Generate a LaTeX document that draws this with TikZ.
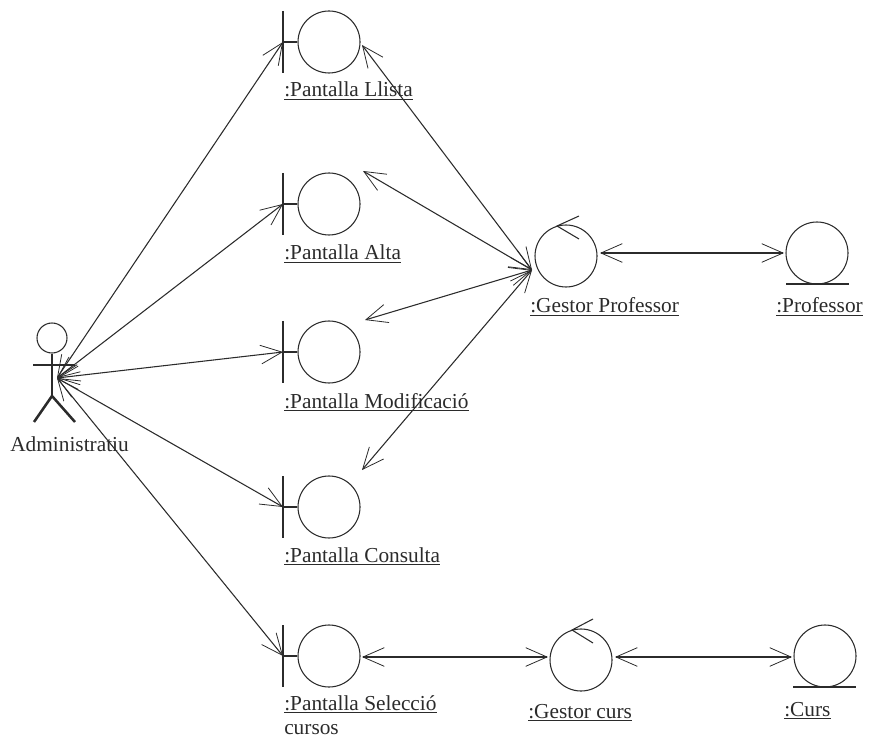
\documentclass[tikz,border=0pt]{standalone}
\usepackage{fontspec}
\setmainfont{Liberation Serif}
\usetikzlibrary{arrows.meta}
\tikzset{
  x=0.75pt,y=-0.75pt,
  obj/.style={circle,draw=ink,line width=0.8pt,minimum size=46.5pt,inner sep=0pt},
  part/.style={draw=ink,line width=0.8pt},
  limb/.style={draw=ink,line width=1.9pt},
  assoc/.style={draw=ink,line width=0.8pt,{Straight Barb[length=16pt,width=14pt,line width=0.6pt]}-{Straight Barb[length=16pt,width=14pt,line width=0.6pt]}},
  lbl/.style={anchor=base west,inner sep=0pt,font=\fontsize{16}{16}\selectfont,text=ink}
}
\definecolor{ink}{HTML}{2B2B2B}
\newcommand{\boundaryobj}[2]{% name, y
  \node[obj] (#1) at (329,#2) {};
  \coordinate (#1bar) at (283,#2);
  \draw[part] (283,#2-31) -- (283,#2+31);
  \draw[part] (#1bar) -- (#1.west);
}
\begin{document}
\begin{tikzpicture}
\useasboundingbox (0,0) rectangle (870,737);
% actor
\node[circle,draw=ink,line width=0.8pt,minimum size=22.5pt,inner sep=0pt] (head) at (52,338) {};
\coordinate (hub) at (57,378);
\coordinate (hip) at (52,396);
\draw[limb] (head.south) -- (hip);
\draw[limb] (33,365) -- (75,365);
\draw[limb] (34,422) -- (hip) -- (75,422);
\node[lbl] (admin) at (10,451) {Administratiu};
% boundary objects
\boundaryobj{llista}{42}
\boundaryobj{alta}{204}
\boundaryobj{modif}{352}
\boundaryobj{consulta}{507}
\boundaryobj{seleccio}{656}
\node[lbl] (tllista) at (284,97) {\underline{:Pantalla Llista}};
\node[lbl] (talta) at (284,260) {\underline{:Pantalla Alta}};
\node[lbl] (tmodif) at (284,408) {\underline{:Pantalla Modificació}};
\node[lbl] (tconsulta) at (284,562) {\underline{:Pantalla Consulta}};
\node[lbl] (tsel) at (284,710) {\underline{:Pantalla Selecció}};
\node[lbl] (tcur) at (284,734) {cursos};
% controllers
\node[obj] (gp) at (566,256) {};
\draw[part] (579,216) -- (557,226) -- (579,239);
\node[lbl] (tgp) at (530,313) {\underline{:Gestor Professor}};
\node[obj] (gc) at (581,660) {};
\draw[part] (593,619) -- (572,630) -- (593,643);
\node[lbl] (tgc) at (528,718) {\underline{:Gestor curs}};
% entities
\node[obj] (prof) at (817,253) {};
\draw[part] (786,284) -- (849,284);
\node[lbl] (tprof) at (776,313) {\underline{:Professor}};
\node[obj] (curs) at (825,656) {};
\draw[part] (793,687) -- (856,687);
\node[lbl] (tcurs) at (784,716) {\underline{:Curs}};
% connection points
\coordinate (gphub) at (532,270);
\coordinate (a1) at (362,45);
\coordinate (a2) at (363,171);
\coordinate (a3) at (365,320);
\coordinate (a4) at (362,470);
\coordinate (gpe) at (600,253);
\coordinate (pe) at (784,253);
\coordinate (se) at (362,657);
\coordinate (cw) at (548,657);
\coordinate (ce) at (615,657);
\coordinate (ke) at (792,657);
% connectors
\draw[assoc] (hub) -- (llistabar);
\draw[assoc] (hub) -- (altabar);
\draw[assoc] (hub) -- (modifbar);
\draw[assoc] (hub) -- (consultabar);
\draw[assoc] (hub) -- (selecciobar);
\draw[assoc] (gphub) -- (a1);
\draw[assoc] (gphub) -- (a2);
\draw[assoc] (gphub) -- (a3);
\draw[assoc] (gphub) -- (a4);
\draw[assoc] (gpe) -- (pe);
\draw[assoc] (se) -- (cw);
\draw[assoc] (ce) -- (ke);
\end{tikzpicture}
\end{document}
